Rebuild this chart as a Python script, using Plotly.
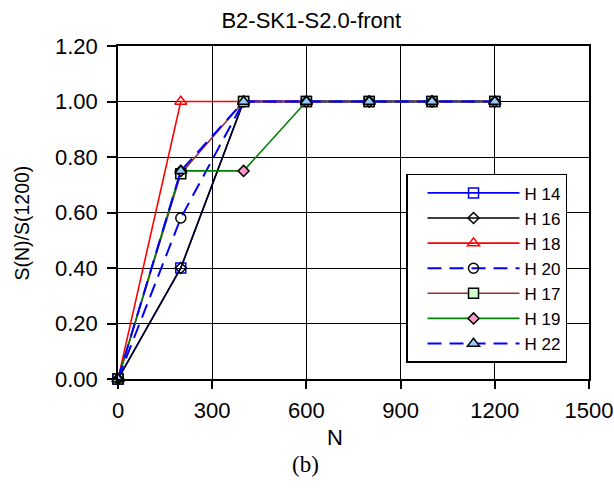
import plotly.graph_objects as go

N = [0, 200, 400, 600, 800, 1000, 1200]
names = ["H 14", "H 16", "H 18", "H 20", "H 17", "H 19", "H 22"]
H14 = [0.00, 0.40, 1.00, 1.00, 1.00, 1.00, 1.00]
H16 = [0.00, 0.40, 1.00, 1.00, 1.00, 1.00, 1.00]
H18 = [0.00, 1.00, 1.00, 1.00, 1.00, 1.00, 1.00]
H20 = [0.00, 0.58, 1.00, 1.00, 1.00, 1.00, 1.00]
H17 = [0.00, 0.74, 1.00, 1.00, 1.00, 1.00, 1.00]
H19 = [0.00, 0.75, 0.75, 1.00, 1.00, 1.00, 1.00]
H22 = [0.00, 0.75, 1.00, 1.00, 1.00, 1.00, 1.00]
series = [H14, H16, H18, H20, H17, H19, H22]

xticks = [0, 300, 600, 900, 1200, 1500]
yticks = [0.0, 0.2, 0.4, 0.6, 0.8, 1.0, 1.2]

styles = [
    dict(color="#0000ff", dash="solid", symbol="square-open", mcolor="#0000ff", fill=None, size=10),
    dict(color="#000000", dash="solid", symbol="diamond-open", mcolor="#000000", fill=None, size=8.5),
    dict(color="#ff0000", dash="solid", symbol="triangle-up-open", mcolor="#ff0000", fill=None, size=10.5),
    dict(color="#0000ff", dash="14px,8px", symbol="circle-open", mcolor="#000000", fill=None, size=10),
    dict(color="#993333", dash="solid", symbol="square", mcolor="#000000", fill="#ccffcc", size=10),
    dict(color="#008000", dash="solid", symbol="diamond", mcolor="#000000", fill="#ff99cc", size=8.5),
    dict(color="#0000ff", dash="14px,8px", symbol="triangle-up", mcolor="#000000", fill="#99ccff", size=10.5),
]

fig = go.Figure()
for name, ys, st in zip(names, series, styles):
    if st["fill"] is None:
        marker = dict(symbol=st["symbol"], size=st["size"], color=st["mcolor"],
                      line=dict(color=st["mcolor"], width=1.5))
    else:
        marker = dict(symbol=st["symbol"], size=st["size"], color=st["fill"],
                      line=dict(color=st["mcolor"], width=1.5))
    fig.add_trace(go.Scatter(
        x=N, y=ys, name=name, mode="lines+markers",
        line=dict(color=st["color"], width=1.6 if st["dash"] == "solid" else 2, dash=st["dash"]),
        marker=marker, cliponaxis=False,
    ))

font_main = "Liberation Sans, Arial"

fig.update_layout(
    width=614, height=490,
    margin=dict(l=118, r=25, t=46, b=111, autoexpand=False),
    paper_bgcolor="white", plot_bgcolor="white",
    font=dict(family=font_main, color="black", size=22),
    title=dict(text="B2-SK1-S2.0-front", x=0.507, xref="container", xanchor="center",
               y=1 - 20 / 490, yref="container", yanchor="middle",
               font=dict(family=font_main, size=22, color="black")),
    showlegend=True,
    legend=dict(x=0.6115, y=0.616, xanchor="left", yanchor="top",
                bgcolor="white", bordercolor="black", borderwidth=1.5,
                font=dict(family=font_main, size=17, color="black"),
                itemwidth=92, indentation=15, tracegroupgap=0),
    annotations=[
        dict(text="S(N)/S(1200)", textangle=-90, xref="paper", yref="paper",
             x=-0.2038, y=0.467, xanchor="center", yanchor="middle", showarrow=False,
             font=dict(family=font_main, size=19.5, color="black")),
        dict(text="N", xref="paper", yref="paper", x=0.4607, y=-0.177,
             xanchor="center", yanchor="middle", showarrow=False,
             font=dict(family=font_main, size=22, color="black")),
        dict(text="(b)", xref="paper", yref="paper", x=0.399, y=-0.2575,
             xanchor="center", yanchor="middle", showarrow=False,
             font=dict(family="Liberation Serif, Times New Roman", size=23, color="black")),
    ],
)
fig.update_xaxes(range=[0, 1500], tickvals=xticks, ticktext=[str(v) for v in xticks],
                 showgrid=True, gridcolor="black", gridwidth=1.2,
                 showline=True, linecolor="black", linewidth=1.5, mirror=True,
                 ticks="outside", ticklen=8, tickwidth=1.5, tickcolor="black",
                 zeroline=False, tickfont=dict(size=22), ticklabeloverflow="allow",
                 ticklabelstandoff=3, automargin=False)
fig.update_yaxes(range=[0, 1.2], tickvals=yticks, ticktext=["%.2f" % v for v in yticks],
                 showgrid=True, gridcolor="black", gridwidth=1.2,
                 showline=True, linecolor="black", linewidth=1.5, mirror=True,
                 ticks="outside", ticklen=9, tickwidth=1.5, tickcolor="black",
                 zeroline=False, tickfont=dict(size=22), ticklabelstandoff=5,
                 automargin=False)

fig.write_html("out.html")
